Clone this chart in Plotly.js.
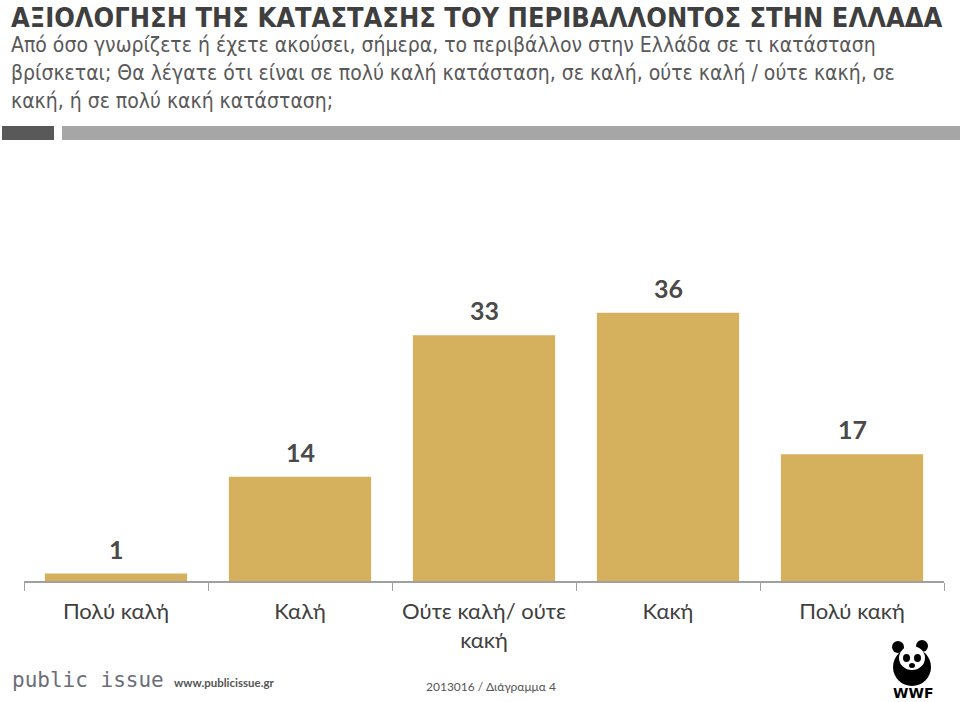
<!DOCTYPE html>
<html>
<head>
<meta charset="utf-8">
<script src="https://cdn.plot.ly/plotly-3.0.1.min.js"></script>
<style>
  html, body { margin: 0; padding: 0; background: #fff; }
  #chart { width: 960px; height: 702px; }
</style>
</head>
<body>
<div id="chart"></div>
<script>
'use strict'

// data
var categories = ['Πολύ καλή', 'Καλή', 'Ούτε καλή/ ούτε κακή', 'Κακή', 'Πολύ κακή'];
var tickLabels = ['Πολύ καλή', 'Καλή', 'Ούτε καλή/ ούτε<br>κακή', 'Κακή', 'Πολύ κακή'];
var values = [1, 14, 33, 36, 17];

var titleText = 'ΑΞΙΟΛΟΓΗΣΗ ΤΗΣ ΚΑΤΑΣΤΑΣΗΣ ΤΟΥ ΠΕΡΙΒΑΛΛΟΝΤΟΣ ΣΤΗΝ ΕΛΛΑΔΑ';
var questionLines = [
  'Από όσο γνωρίζετε ή έχετε ακούσει, σήμερα, το περιβάλλον στην Ελλάδα σε τι κατάσταση',
  'βρίσκεται; Θα λέγατε ότι είναι σε πολύ καλή κατάσταση, σε καλή, ούτε καλή / ούτε κακή, σε',
  'κακή, ή σε πολύ κακή κατάσταση;'
];

var W = 960, H = 702;
var M = {l: 24, r: 16, t: 283, b: 121};
var plotW = W - M.l - M.r, plotH = H - M.t - M.b;

// page pixels -> paper coords
function px(x) { return (x - M.l) / plotW; }
function py(y) { return (H - M.b - y) / plotH; }

var narrow = '"Liberation Sans Narrow", "DejaVu Sans Condensed", "Arial Narrow", sans-serif';
var body = 'Lato, "Open Sans", sans-serif';

var bars = {
  type: 'bar',
  x: categories,
  y: values,
  marker: { color: '#d6b15d' },
  hoverinfo: 'none'
};

var annotations = [];
for (var i = 0; i < categories.length; i++) {
  annotations.push({
    x: categories[i], y: values[i], xref: 'x', yref: 'y',
    text: '<b>' + values[i] + '</b>', showarrow: false,
    yanchor: 'bottom', yshift: 8,
    font: { family: body, size: 25, color: '#4a4a4a' }
  });
}

annotations.push({
  xref: 'paper', yref: 'paper', x: px(9), y: py(0),
  xanchor: 'left', yanchor: 'top', showarrow: false,
  text: '<b>' + titleText + '</b>',
  font: { family: narrow, size: 27, color: '#3f3f3f' }
});
var lineY = [45, 73, 101];
questionLines.forEach(function (t, k) {
  annotations.push({
    xref: 'paper', yref: 'paper', x: px(9), y: py(lineY[k]),
    xanchor: 'left', yanchor: 'middle', showarrow: false,
    text: t,
    font: { family: narrow, size: 21, color: '#595959' }
  });
});

// footer
annotations.push({
  xref: 'paper', yref: 'paper', x: px(10), y: py(680),
  xanchor: 'left', yanchor: 'middle', showarrow: false,
  text: 'public issue',
  font: { family: '"DejaVu Sans Mono", monospace', size: 21, color: '#6b6e78' }
});
annotations.push({
  xref: 'paper', yref: 'paper', x: px(172), y: py(682),
  xanchor: 'left', yanchor: 'middle', showarrow: false,
  text: '<b>www.publicissue.gr</b>',
  font: { family: body, size: 11.5, color: '#555555' }
});
annotations.push({
  xref: 'paper', yref: 'paper', x: px(424), y: py(686),
  xanchor: 'left', yanchor: 'middle', showarrow: false,
  text: '2013016 / Διάγραμμα 4',
  font: { family: body, size: 12, color: '#555555' }
});
annotations.push({
  xref: 'paper', yref: 'paper', x: px(913), y: py(693),
  xanchor: 'center', yanchor: 'middle', showarrow: false,
  text: '<b>WWF</b>',
  font: { family: '"DejaVu Sans", sans-serif', size: 14, color: '#000000' }
});

function rect(x0, y0, x1, y1, color) {
  return { type: 'rect', xref: 'paper', yref: 'paper',
    x0: px(x0), x1: px(x1), y0: py(y1), y1: py(y0),
    line: { width: 0 }, fillcolor: color, layer: 'above' };
}
function circle(x0, y0, x1, y1, color) {
  var s = rect(x0, y0, x1, y1, color);
  s.type = 'circle';
  return s;
}

var shapes = [
  rect(2, 126, 54, 140, '#595959'),
  rect(62, 126, 960, 140, '#a6a6a6'),
  // rough panda mark
  circle(892, 641, 904, 653, '#000'),
  circle(916, 640, 928, 652, '#000'),
  circle(893, 648, 931, 686, '#000'),
  circle(899, 646, 925, 670, '#fff'),
  circle(903, 654, 910, 662, '#000'),
  circle(914, 654, 921, 662, '#000'),
  circle(909, 663, 915, 668, '#000')
];

var layout = {
  width: W, height: H,
  margin: M,
  paper_bgcolor: '#ffffff',
  plot_bgcolor: '#ffffff',
  showlegend: false,
  bargap: 0.227,
  xaxis: {
    type: 'category',
    tickvals: categories,
    ticktext: tickLabels,
    tickson: 'boundaries',
    ticks: 'outside', ticklen: 8, tickcolor: '#a0a0a0', tickwidth: 1,
    showline: true, linecolor: '#a0a0a0', linewidth: 1.5,
    showgrid: false, zeroline: false,
    ticklabelstandoff: 10,
    tickfont: { family: body, size: 22, color: '#404040' }
  },
  yaxis: {
    range: [0, 40],
    visible: false, showgrid: false, zeroline: false
  },
  annotations: annotations,
  shapes: shapes
};

Plotly.newPlot('chart', [bars], layout, { displayModeBar: false, staticPlot: true });
</script>
</body>
</html>
